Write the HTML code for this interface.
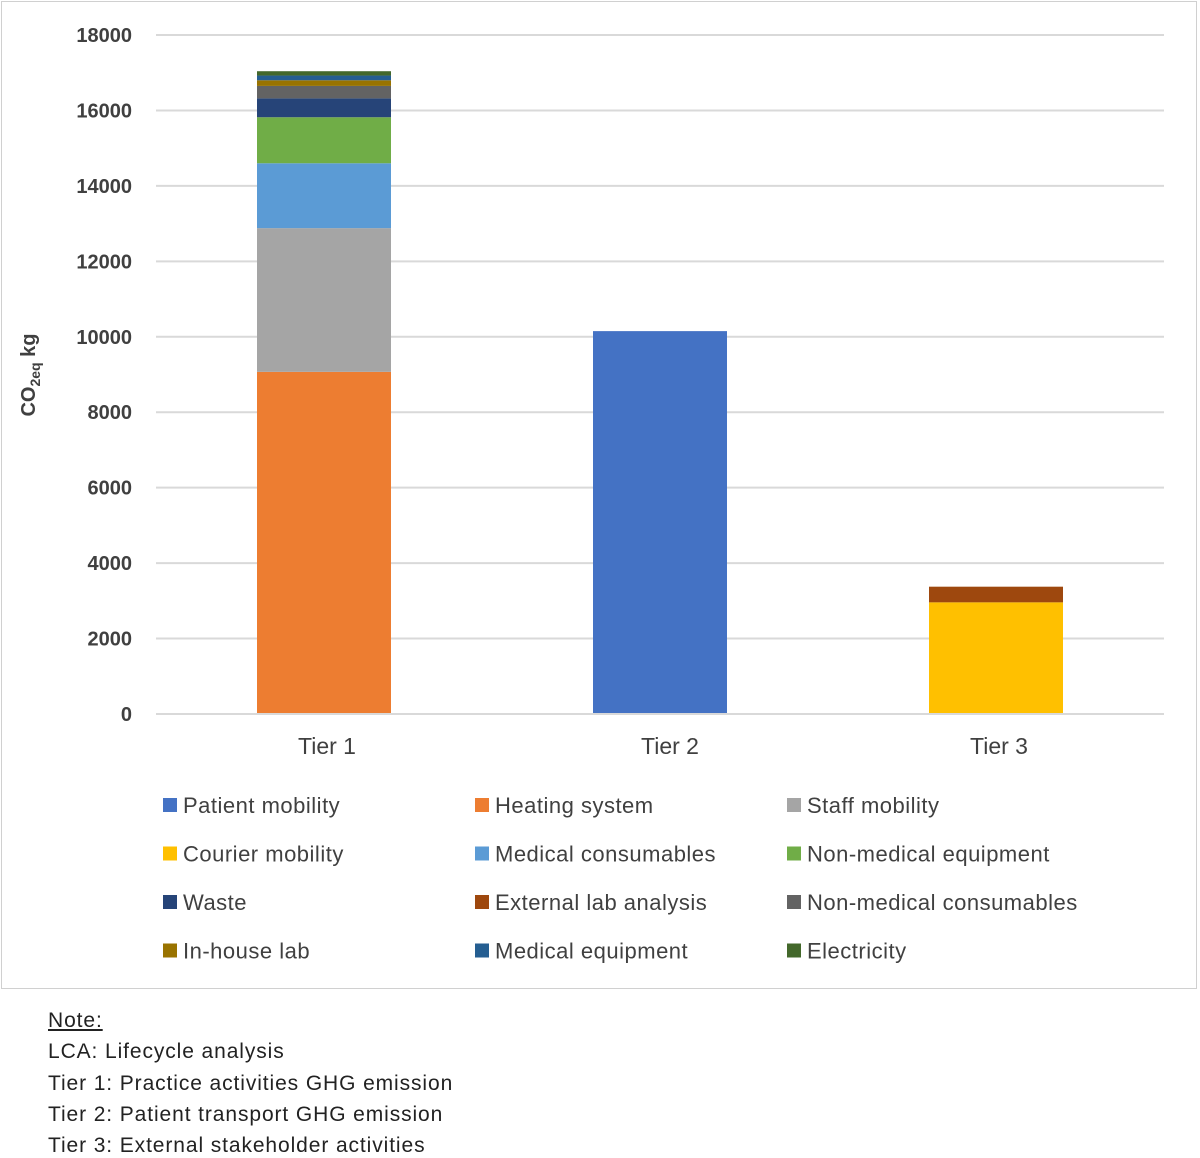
<!DOCTYPE html>
<html><head><meta charset="utf-8"><style>
body{margin:0;background:#fff;width:1200px;height:1156px;overflow:hidden;font-family:"Liberation Sans",sans-serif}
#frame{position:absolute;left:1px;top:1px;width:1194px;height:986px;border:1px solid #d0d0d0}
.note{position:absolute;left:48px;font-size:21px;color:#222;letter-spacing:0.9px}
</style></head><body>
<div id="frame"></div>
<svg id="chart" width="1200" height="990" style="position:absolute;left:0;top:0"></svg>
<div class="note" style="top:1009px;text-decoration:underline">Note:</div>
<div class="note" style="top:1040px">LCA: Lifecycle analysis</div>
<div class="note" style="top:1072px">Tier 1: Practice activities GHG emission</div>
<div class="note" style="top:1103px">Tier 2: Patient transport GHG emission</div>
<div class="note" style="top:1134px">Tier 3: External stakeholder activities</div>
<script>
const categories=["Tier 1","Tier 2","Tier 3"];
const seriesNames=["Patient mobility","Heating system","Staff mobility","Courier mobility","Medical consumables","Non-medical equipment","Waste","External lab analysis","Non-medical consumables","In-house lab","Medical equipment","Electricity"];
const seriesColors=["#4472c4","#ed7d31","#a5a5a5","#ffc000","#5b9bd5","#70ad47","#264478","#9e480e","#636363","#997300","#255e91","#43682b"];
const patientMobility=[0,10150,0];
const heatingSystem=[9070,0,0];
const staffMobility=[3810,0,0];
const courierMobility=[0,0,2960];
const medicalConsumables=[1720,0,0];
const nonMedicalEquipment=[1220,0,0];
const waste=[500,0,0];
const externalLab=[0,0,415];
const nonMedicalConsumables=[330,0,0];
const inHouseLab=[150,0,0];
const medicalEquipment=[125,0,0];
const electricity=[115,0,0];
const seriesValues=[patientMobility,heatingSystem,staffMobility,courierMobility,medicalConsumables,nonMedicalEquipment,waste,externalLab,nonMedicalConsumables,inHouseLab,medicalEquipment,electricity];
const yTicks=[0,2000,4000,6000,8000,10000,12000,14000,16000,18000];
const stackOrder=[1,2,4,5,6,8,9,10,11,0,3,7];
const NS="http://www.w3.org/2000/svg";
const svg=document.getElementById('chart');
const x0=156,x1=1164,y0=714,y1=35,yMax=18000;
const y=v=>y0-(v/yMax)*(y0-y1);
const band=(x1-x0)/categories.length, bw=134;
const xc=i=>x0+band*(i+0.5);
function mk(t,a){const e=document.createElementNS(NS,t);for(const k in a)e.setAttribute(k,a[k]);svg.appendChild(e);return e;}
yTicks.forEach(t=>{
  const l=mk('line',{x1:x0,x2:x1,y1:y(t),y2:y(t),stroke:'#d9d9d9','stroke-width':2});
  
  
  const tx=mk('text',{x:132,y:y(t)+7,'text-anchor':'end','font-size':20,'font-weight':'bold',fill:'#404040','font-family':'Liberation Sans, sans-serif'});
  tx.textContent=t;
  
  
});
categories.forEach((c,i)=>{
  let acc=0;
  stackOrder.forEach(s=>{
    const v=seriesValues[s][i]; if(!v)return;
    const r=mk('rect',{x:xc(i)-bw/2,y:y(acc+v),width:bw,height:y(acc)-y(acc+v),fill:seriesColors[s]});
    
    
    acc+=v;
  });
  const t=mk('text',{x:xc(i)+(i===1?10:3),y:754,'text-anchor':'middle','font-size':23,fill:'#404040','font-family':'Liberation Sans, sans-serif'});
  t.textContent=c;
  
  
});
const ax=mk('line',{x1:x0,x2:x1,y1:y0,y2:y0,stroke:'#d9d9d9','stroke-width':2});


const yt=mk('text',{transform:'translate(35,375) rotate(-90)','text-anchor':'middle','font-size':20,'font-weight':'bold',fill:'#404040','font-family':'Liberation Sans, sans-serif'});
yt.innerHTML='CO<tspan font-size="14" dy="5">2eq</tspan><tspan dy="-5"> kg</tspan>';


seriesNames.forEach((n,k)=>{
  const col=k%3,row=Math.floor(k/3);
  const lx=163+col*312,ly=805+row*48.5;
  const sq=mk('rect',{x:lx,y:ly-7,width:14,height:14,fill:seriesColors[k]});
  
  
  const t=mk('text',{x:lx+20,y:ly+8,'font-size':22,'letter-spacing':0.5,fill:'#404040','font-family':'Liberation Sans, sans-serif'});
  t.textContent=n;
  
  
});
</script>
</body></html>
